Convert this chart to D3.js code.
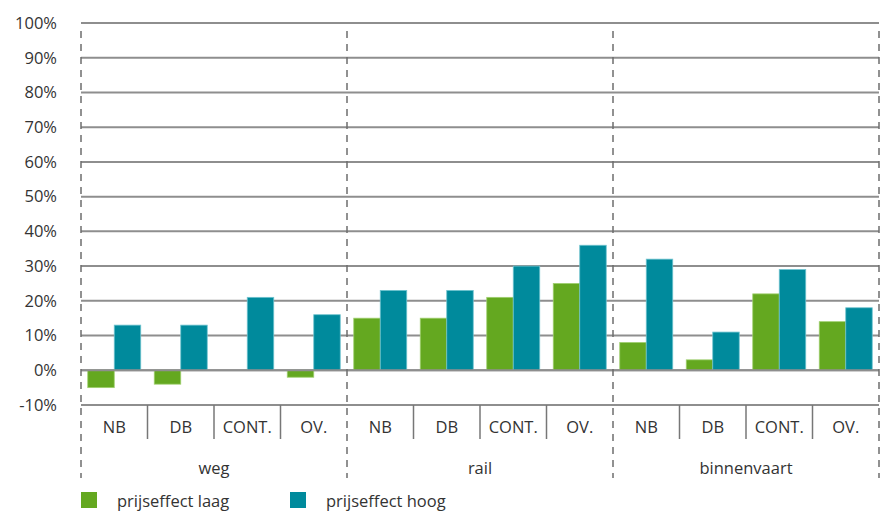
<!DOCTYPE html>
<html>
<head>
<meta charset="utf-8">
<script src="https://cdn.jsdelivr.net/npm/d3@7"></script>
<style>
  html, body { margin: 0; padding: 0; background: #fff; }
  svg { display: block; font-family: "Open Sans", "Noto Sans", sans-serif; }
</style>
</head>
<body>
<svg id="chart" width="880" height="515"></svg>
<script>
const groups = ["weg", "rail", "binnenvaart"];
const subcats = ["NB", "DB", "CONT.", "OV."];
const seriesNames = ["prijseffect laag", "prijseffect hoog"];
const seriesColors = ["#64a820", "#008a9c"];
const laag = [-5, -4, 0, -2,   15, 15, 21, 25,   8, 3, 22, 14];
const hoog = [13, 13, 21, 16,  23, 23, 30, 36,  32, 11, 29, 18];
const yTicks = [-10, 0, 10, 20, 30, 40, 50, 60, 70, 80, 90, 100];

const svg = d3.select("#chart");
const pLeft = 81, pRight = 879, pTop = 23, pBottom = 405;

const y = d3.scaleLinear().domain([-10, 100]).range([pBottom, pTop]);
const x0 = d3.scaleBand().domain(groups).range([pLeft, pRight]).padding(0);
const x1 = d3.scaleBand().domain(subcats).range([0, x0.bandwidth()]).padding(0);
const x2 = d3.scaleBand().domain([0, 1]).range([0, x1.bandwidth()]).paddingInner(0).paddingOuter(0.255);

const gridColor = "#8e8e8e";

// gridlines
svg.append("g").selectAll("line").data(yTicks).join("line")
  .attr("x1", pLeft).attr("x2", pRight)
  .attr("y1", d => y(d)).attr("y2", d => y(d))
  .attr("stroke", gridColor).attr("stroke-width", 2);

// y labels
svg.append("g").selectAll("text").data(yTicks).join("text")
  .attr("x", 57).attr("y", d => y(d))
  .attr("dy", "0.35em")
  .attr("text-anchor", "end")
  .attr("font-size", 16.5)
  .attr("fill", "#333")
  .text(d => d + "%");

// bars
const rows = [];
groups.forEach((g, gi) => subcats.forEach((s, si) => {
  const i = gi * subcats.length + si;
  rows.push({g, s, k: 0, v: laag[i]});
  rows.push({g, s, k: 1, v: hoog[i]});
}));
svg.append("g").selectAll("rect").data(rows.filter(d => d.v !== 0)).join("rect")
  .attr("x", d => x0(d.g) + x1(d.s) + x2(d.k))
  .attr("width", x2.bandwidth())
  .attr("y", d => y(Math.max(0, d.v)))
  .attr("height", d => Math.abs(y(d.v) - y(0)))
  .attr("fill", d => seriesColors[d.k])
  .attr("stroke", d => d.k === 0 ? "#9fcf6f" : "#6fc3cf")
  .attr("stroke-width", 0.8);

// zero line over bars
svg.append("line")
  .attr("x1", pLeft).attr("x2", pRight)
  .attr("y1", y(0)).attr("y2", y(0))
  .attr("stroke", gridColor).attr("stroke-width", 2);

// subcategory dividers
const subDiv = [];
groups.forEach(g => subcats.slice(1).forEach(s => subDiv.push(x0(g) + x1(s))));
svg.append("g").selectAll("line").data(subDiv).join("line")
  .attr("x1", d => d).attr("x2", d => d)
  .attr("y1", pBottom).attr("y2", 439)
  .attr("stroke", "#777").attr("stroke-width", 1.5);

// group dashed dividers
const gDiv = groups.map(g => x0(g)).concat([pRight]);
svg.append("g").selectAll("line").data(gDiv).join("line")
  .attr("x1", d => d).attr("x2", d => d)
  .attr("y1", pTop + 8).attr("y2", 478)
  .attr("stroke", "#6e6e6e").attr("stroke-width", 1.5)
  .attr("stroke-dasharray", "7,6");

// subcategory labels
const subLab = [];
groups.forEach(g => subcats.forEach(s => subLab.push({x: x0(g) + x1(s) + x1.bandwidth() / 2, t: s})));
svg.append("g").selectAll("text").data(subLab).join("text")
  .attr("x", d => d.x).attr("y", 427).attr("dy", "0.35em")
  .attr("text-anchor", "middle").attr("font-size", 16.5).attr("fill", "#333")
  .text(d => d.t);

// group labels
svg.append("g").selectAll("text").data(groups).join("text")
  .attr("x", d => x0(d) + x0.bandwidth() / 2).attr("y", 468).attr("dy", "0.35em")
  .attr("text-anchor", "middle").attr("font-size", 16.5).attr("fill", "#333")
  .text(d => d);

// legend
const legX = [81, 290];
const leg = svg.append("g").selectAll("g").data(seriesNames).join("g");
leg.append("rect")
  .attr("x", (d, i) => legX[i]).attr("y", 492)
  .attr("width", 16).attr("height", 16)
  .attr("fill", (d, i) => seriesColors[i]);
leg.append("text")
  .attr("x", (d, i) => legX[i] + 36).attr("y", 501).attr("dy", "0.35em")
  .attr("font-size", 16.5).attr("fill", "#333")
  .text(d => d);
</script>
</body>
</html>
